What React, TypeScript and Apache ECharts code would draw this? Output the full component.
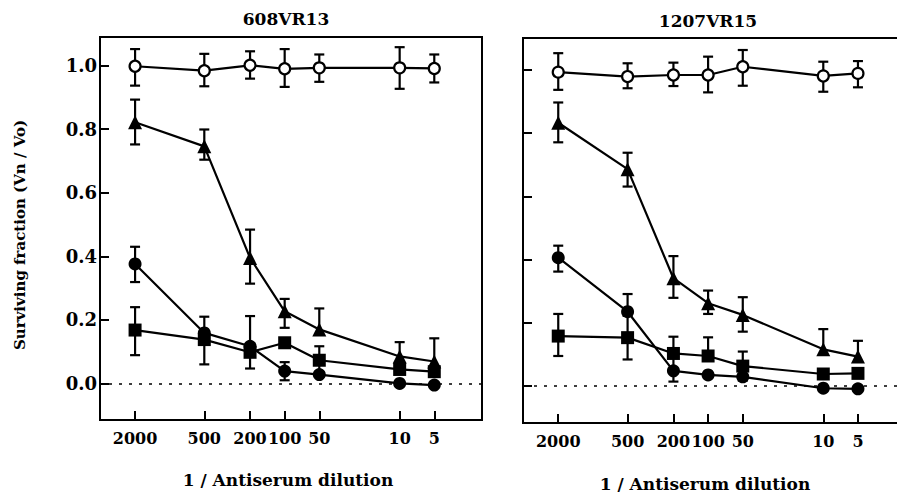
import React, { useEffect, useRef } from "react";
import * as echarts from "echarts";

// ---- data ----
const dilutions = [2000, 500, 200, 100, 50, 10, 5];
const yTicks = [0, 0.2, 0.4, 0.6, 0.8, 1.0];
const panelTitles = ["608VR13", "1207VR15"];
const xName = "1 / Antiserum dilution";
const yName = "Surviving fraction (Vn / Vo)";

// Panel A: 608VR13
const a_ctrl = [0.998, 0.984, 1.001, 0.99, 0.993, 0.993, 0.991];
const a_ctrlUp = [0.054, 0.053, 0.044, 0.062, 0.042, 0.065, 0.044];
const a_ctrlDn = [0.061, 0.049, 0.042, 0.057, 0.044, 0.066, 0.044];
const a_tri = [0.822, 0.746, 0.395, 0.227, 0.17, 0.085, 0.069];
const a_triUp = [0.071, 0.053, 0.089, 0.039, 0.066, 0.045, 0.073];
const a_triDn = [0.07, 0.042, 0.081, 0.052, 0, 0, 0];
const a_circ = [0.376, 0.159, 0.117, 0.039, 0.028, 0.0, -0.005];
const a_circUp = [0.054, 0, 0.095, 0.028, 0, 0, 0];
const a_circDn = [0.057, 0, 0.07, 0.029, 0, 0, 0];
const a_sq = [0.168, 0.138, 0.098, 0.128, 0.073, 0.044, 0.037];
const a_sqUp = [0.072, 0.072, 0, 0, 0.044, 0, 0];
const a_sqDn = [0.079, 0.078, 0, 0, 0.044, 0, 0];

// Panel B: 1207VR15
const b_ctrl = [0.993, 0.979, 0.984, 0.984, 1.01, 0.981, 0.989];
const b_ctrlUp = [0.06, 0.042, 0.039, 0.058, 0.053, 0.045, 0.039];
const b_ctrlDn = [0.056, 0.037, 0.035, 0.055, 0.06, 0.05, 0.044];
const b_tri = [0.833, 0.686, 0.341, 0.262, 0.225, 0.116, 0.093];
const b_triUp = [0.064, 0.052, 0.07, 0.04, 0.056, 0.064, 0.05];
const b_triDn = [0.062, 0.055, 0.062, 0.034, 0.053, 0, 0];
const b_circ = [0.406, 0.235, 0.048, 0.035, 0.029, -0.007, -0.009];
const b_circUp = [0.038, 0.056, 0, 0, 0, 0, 0];
const b_circDn = [0.044, 0, 0.034, 0, 0, 0, 0];
const b_sq = [0.158, 0.153, 0.103, 0.095, 0.063, 0.038, 0.04];
const b_sqUp = [0.07, 0.069, 0.053, 0.059, 0.046, 0, 0];
const b_sqDn = [0.063, 0.069, 0.053, 0, 0.046, 0, 0];

const FONT = "DejaVu Serif";
const lx = (d: number) => Math.log10(d);

type Spec = { vals: number[]; up: number[]; dn: number[]; kind: "open" | "tri" | "circ" | "sq" };

const panels: Spec[][] = [
  [
    { vals: a_ctrl, up: a_ctrlUp, dn: a_ctrlDn, kind: "open" },
    { vals: a_tri, up: a_triUp, dn: a_triDn, kind: "tri" },
    { vals: a_circ, up: a_circUp, dn: a_circDn, kind: "circ" },
    { vals: a_sq, up: a_sqUp, dn: a_sqDn, kind: "sq" },
  ],
  [
    { vals: b_ctrl, up: b_ctrlUp, dn: b_ctrlDn, kind: "open" },
    { vals: b_tri, up: b_triUp, dn: b_triDn, kind: "tri" },
    { vals: b_circ, up: b_circUp, dn: b_circDn, kind: "circ" },
    { vals: b_sq, up: b_sqUp, dn: b_sqDn, kind: "sq" },
  ],
];

function symbolFor(kind: string) {
  switch (kind) {
    case "open":
      return { symbol: "circle", symbolSize: 11, itemStyle: { color: "#fff", borderColor: "#000", borderWidth: 2.2 } };
    case "tri":
      return { symbol: "triangle", symbolSize: 14, itemStyle: { color: "#000" } };
    case "circ":
      return { symbol: "circle", symbolSize: 13, itemStyle: { color: "#000" } };
    default:
      return { symbol: "rect", symbolSize: 13, itemStyle: { color: "#000" } };
  }
}

const errRender = (params: any, api: any) => {
  const x = api.value(0);
  const v = api.value(1);
  const lo = api.value(2);
  const hi = api.value(3);
  const pTop = api.coord([x, hi]);
  const pBot = api.coord([x, lo]);
  const pMid = api.coord([x, v]);
  const cap = 5;
  const st = { stroke: "#000", lineWidth: 2.2 };
  const children: any[] = [];
  if (hi > v) {
    children.push({ type: "line", shape: { x1: pTop[0], y1: pTop[1], x2: pMid[0], y2: pMid[1] }, style: st });
    children.push({ type: "line", shape: { x1: pTop[0] - cap, y1: pTop[1], x2: pTop[0] + cap, y2: pTop[1] }, style: st });
  }
  if (lo < v) {
    children.push({ type: "line", shape: { x1: pMid[0], y1: pMid[1], x2: pBot[0], y2: pBot[1] }, style: st });
    children.push({ type: "line", shape: { x1: pBot[0] - cap, y1: pBot[1], x2: pBot[0] + cap, y2: pBot[1] }, style: st });
  }
  return { type: "group", children };
};

export default function App() {
  const ref = useRef<HTMLDivElement>(null);
  useEffect(() => {
    if (!ref.current) return;
    const chart = echarts.init(ref.current, null, { renderer: "svg" });

    const grids = [
      { left: 100, top: 37, width: 382, height: 383 },
      { left: 523, top: 38, width: 374, height: 385 },
    ];
    const xRanges = [
      [0.284, 3.606],
      [0.36, 3.607],
    ];
    const yRanges = [
      [-0.115, 1.09],
      [-0.117, 1.101],
    ];
    const frameLine = { show: true, onZero: false, lineStyle: { color: "#000", width: 2 } };

    const xAxes: any[] = grids.map((_, i) => ({
      type: "value",
      gridIndex: i,
      position: "bottom",
      min: xRanges[i][0],
      max: xRanges[i][1],
      inverse: true,
      axisLine: { show: false, onZero: false },
      splitLine: { show: false },
      axisTick: {
        show: true,
        inside: true,
        length: 9,
        lineStyle: { color: "#000", width: 2 },
        customValues: dilutions.map(lx),
      },
      axisLabel: {
        show: true,
        margin: 10,
        color: "#000",
        fontFamily: FONT,
        fontWeight: "bold",
        fontSize: 16,
        customValues: dilutions.map(lx),
        formatter: (v: number) => String(Math.round(Math.pow(10, v))),
      },
    }));

    const yAxes = grids.map((_, i) => ({
      type: "value",
      gridIndex: i,
      min: yRanges[i][0],
      max: yRanges[i][1],
      axisLine: i === 1 ? frameLine : { show: false, onZero: false },
      splitLine: { show: false },
      axisTick: {
        show: true,
        inside: true,
        length: 9,
        lineStyle: { color: "#000", width: 2 },
        customValues: yTicks,
      },
      axisLabel: {
        show: i === 0,
        margin: 3,
        color: "#000",
        fontFamily: FONT,
        fontWeight: "bold",
        fontSize: 18,
        customValues: yTicks,
        formatter: (v: number) => v.toFixed(1),
      },
    }));

    const series: any[] = [];
    panels.forEach((specs, pi) => {
      specs.forEach((s, si) => {
        const sym = symbolFor(s.kind);
        series.push({
          type: "custom",
          xAxisIndex: pi,
          yAxisIndex: pi,
          z: 1,
          clip: false,
          renderItem: errRender,
          encode: { x: 0, y: [1, 2, 3] },
          data: dilutions.map((d, k) => [lx(d), s.vals[k], s.vals[k] - s.dn[k], s.vals[k] + s.up[k]]),
        });
        const line: any = {
          type: "line",
          xAxisIndex: pi,
          yAxisIndex: pi,
          z: 3,
          symbol: sym.symbol,
          symbolSize: sym.symbolSize,
          showAllSymbol: true,
          itemStyle: sym.itemStyle,
          lineStyle: { color: "#000", width: 2.2 },
          data: dilutions.map((d, k) => [lx(d), s.vals[k]]),
        };
        if (si === 0) {
          line.markLine = {
            silent: true,
            symbol: ["none", "none"],
            label: { show: false },
            lineStyle: { color: "#000", width: 1.5, type: [3, 7] },
            data: [{ yAxis: 0 }],
          };
        }
        series.push(line);
      });
    });

    const textStyle = (t: string) => ({
      text: t,
      fontFamily: FONT,
      fontWeight: "bold",
      fontSize: 17,
      fill: "#000",
      align: "center",
      verticalAlign: "middle",
    });

    chart.setOption({
      animation: false,
      backgroundColor: "#fff",
      grid: grids.map((g, i) => ({
        ...g,
        outerBoundsMode: "none",
        show: i === 0,
        borderColor: "#000",
        borderWidth: 2,
        backgroundColor: "transparent",
      })),
      xAxis: xAxes,
      yAxis: yAxes,
      series,
      graphic: [
        { type: "text", x: 286, y: 19, style: textStyle(panelTitles[0]) },
        { type: "text", x: 708, y: 21, style: textStyle(panelTitles[1]) },
        { type: "text", x: 288, y: 480, style: { ...textStyle(xName), fontSize: 17 } },
        { type: "text", x: 705, y: 484, style: { ...textStyle(xName), fontSize: 17 } },
        { type: "text", x: 20, y: 235, rotation: Math.PI / 2, style: { ...textStyle(yName), fontSize: 15 } },
        // open-ended frame of the right panel: top and bottom rules run to the page edge
        { type: "line", z: 50, shape: { x1: 522, y1: 38, x2: 897, y2: 38 }, style: { stroke: "#000", lineWidth: 2 } },
        { type: "line", z: 50, shape: { x1: 522, y1: 423, x2: 897, y2: 423 }, style: { stroke: "#000", lineWidth: 2 } },
      ],
    });
    return () => chart.dispose();
  }, []);
  return (
    <div
      ref={ref}
      style={{ position: "fixed", left: 0, top: 0, width: 897, height: 493, background: "#fff" }}
    />
  );
}
